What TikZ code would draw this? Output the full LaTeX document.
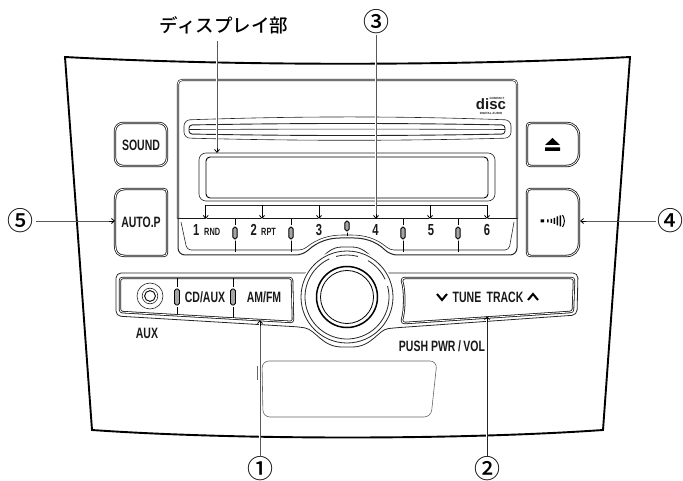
\documentclass[tikz,border=0pt]{standalone}
\usepackage{fontspec}
\setmainfont{Liberation Sans}
\newfontfamily\cjk{Noto Sans CJK JP Medium}
\newfontfamily\cond[FakeStretch=0.7]{Liberation Sans Bold}
\newfontfamily\logofont{Liberation Sans Bold}
\usetikzlibrary{arrows.meta}
\tikzset{
 x=1pt,y=-1pt,
 panel/.style={draw=black,line width=1.9pt,line join=miter},
 thin line/.style={draw=black!85,line width=.6pt},
 dbl/.style={draw=black!85,line width=.65pt,double=white,double distance=.9pt,line join=round},
 btn/.style={draw=black!90,line width=.8pt,double=white,double distance=.8pt,line join=round},
 recess/.style={draw=black!60,line width=.6pt},
 pill/.style={draw=black,line width=.9pt,fill=black!35,rounded corners=1.8pt,inner sep=0pt,minimum width=4.2pt},
 lbl/.style={font=\cond,inner sep=0pt,text=black!90},
 circ/.style={font=\cjk\fontsize{26}{26}\selectfont,inner sep=0pt},
 halo/.style={draw=white,line width=2.6pt},
 leader/.style={draw=black!65,line width=.9pt},
 tip/.style={draw=black,line width=.7pt,-{Straight Barb[length=3pt,width=5pt,line width=.8pt]}},
}
\begin{document}
\begin{tikzpicture}
\useasboundingbox (0,0) rectangle (683,481);
% outer panel
\draw[panel] (65,57) .. controls (230,66) and (460,66) .. (630,57) -- (603,430)
  .. controls (460,440) and (235,440) .. (92,430) -- cycle;
% CD bezel
\draw[dbl,rounded corners=4pt] (178,219) -- (178,80) -- (517,80) -- (517,219);
\draw[line width=1pt,draw=black!90] (178,218.5) -- (517,218.5);
\draw[thin line,line width=1pt,rounded corners=7pt] (178,218) -- (178,255) -- (303,255)
  .. controls (318,241) and (330,238) .. (347,238) .. controls (364,238) and (376,241) .. (390,255)
  -- (517,255) -- (517,218);
\draw[thin line,rounded corners=4pt] (181,222) -- (187,250) -- (303,250)
  .. controls (318,238) and (330,235) .. (347,235) .. controls (364,235) and (376,238) .. (390,250)
  -- (509,250) -- (514,222);
% CD slot
\draw[thin line,rounded corners=6pt] (184,120) .. controls (300,116) and (400,116) .. (511,120) -- (511,138) .. controls (400,141) and (300,141) .. (184,138) -- cycle;
\draw[thin line,line width=.9pt,rounded corners=3pt] (189,125) .. controls (300,123) and (400,123) .. (505,125) -- (505,134) .. controls (400,136) and (300,136) .. (189,134) -- cycle;
\draw[thin line] (189,129.5) .. controls (300,129) and (400,129) .. (505,129.5);
% display
\draw[thin line,rounded corners=7pt] (199,153) rectangle (495,201);
\draw[draw=black,line width=.9pt,rounded corners=4pt] (206,157) rectangle (488,198);
% side buttons
\draw[btn,rounded corners=8pt] (115,123) -- (167,123) -- (167,166) -- (115,166) -- cycle;
\draw[btn] (125,189) -- (163,189) .. controls (166,189) and (167,190) .. (167,193) -- (167,252) .. controls (167,255) and (166,256) .. (163,256) -- (125,256) .. controls (118,256) and (115,252) .. (115,245) -- (115,200) .. controls (115,193) and (118,189) .. (125,189) -- cycle;
\draw[btn] (531,123) -- (566,123) .. controls (574,123) and (579,128) .. (579,136) -- (579,153) .. controls (579,161) and (574,166) .. (566,166) -- (531,166) .. controls (528,166) and (527,165) .. (527,162) -- (527,127) .. controls (527,124) and (528,123) .. (531,123) -- cycle;
\draw[btn] (531,189) -- (566,189) .. controls (574,189) and (579,194) .. (579,202) -- (579,243) .. controls (579,251) and (574,256) .. (566,256) -- (531,256) .. controls (528,256) and (527,255) .. (527,252) -- (527,193) .. controls (527,190) and (528,189) .. (531,189) -- cycle;
\node[lbl,font=\cond\fontsize{15}{15}\selectfont] (sound) at (141,145) {SOUND};
\node[lbl,font=\cond\fontsize{15}{15}\selectfont] (autop) at (141,222) {AUTO.P};
% eject icon
\fill[black] (545,145) -- (552.5,138) -- (560,145) -- cycle (545,147.5) rectangle (560,151);
% seek icon
\fill[black] (540.5,219.5) rectangle (544,222.5) (547,219.5) rectangle (548.5,222.5)
  (550.5,219) rectangle (552,223) (553.5,218) rectangle (555,224) (556.5,216.5) rectangle (558,225.5)
  (559.5,215.5) rectangle (561,226.5);
\draw[black,line width=1pt] (562.5,215) .. controls (565,219) and (565,223) .. (562.5,227);
% preset dividers
\foreach \x/\yy in {235/252,291/252,403/252,458/252}{\draw[line width=1pt,black] (\x,219) -- (\x,\yy);
  \node[pill,draw=white,line width=2.5pt,minimum height=13pt] at (\x,233) {};
  \node[pill,minimum height=12pt] at (\x,233) {};}
\draw[line width=1pt,black] (347,219) -- (347,236);
\node[pill,draw=white,line width=2.5pt,minimum height=11pt] at (347,226) {};
\node[pill,minimum height=10pt] at (347,226) {};
% preset labels
\node[lbl,font=\cond\fontsize{16}{16}\selectfont,anchor=base east] (p1) at (199.5,236) {1};
\node[lbl,font=\cond\fontsize{10.5}{10.5}\selectfont,anchor=base west] (p1b) at (204,236) {RND};
\node[lbl,font=\cond\fontsize{16}{16}\selectfont,anchor=base east] (p2) at (257,236) {2};
\node[lbl,font=\cond\fontsize{10.5}{10.5}\selectfont,anchor=base west] (p2b) at (261,236) {RPT};
\foreach \x/\t in {319/3,375.5/4,431/5,487/6}{\node[lbl,font=\cond\fontsize{16}{16}\selectfont,anchor=base] at (\x,236) {\t};}
% lower band with knob surround
\draw[thin line,line width=.8pt,rounded corners=5pt] (116,316) -- (116,273) -- (300,273)
  .. controls (316,273) and (322,247) .. (347,247) .. controls (372,247) and (378,273) .. (393,273)
  -- (578,273) -- (577,315) -- (393,328)
  .. controls (378,330) and (372,347) .. (347,347) .. controls (322,347) and (316,330) .. (300,327)
  -- cycle;
% knob
\fill[white] (347,297) circle (48);
\draw[thin line,line width=.8pt] (347,297) circle (46);
\draw[thin line,line width=.8pt] (347,297) ++(-60:42) arc (-60:-25:42) ++(0,0);
\draw[thin line,line width=.8pt] (347,297) ++(-15:42) arc (-15:245:42);
\draw[thin line,line width=.8pt] (347,297) ++(255:42) arc (255:285:42);
\draw[black,line width=1.5pt] (347,297) circle (30.5);
\draw[black,line width=.8pt] (347,297) circle (26.5);
% lower buttons
\draw[btn,rounded corners=2.5pt] (120,278) -- (292,278) -- (293,322) -- (120,312) -- cycle;
\draw[btn] (405,278) -- (571,278) .. controls (573,278) and (574,279) .. (574,281) -- (573,309) .. controls (573,311) and (572,312) .. (570,312) -- (405,323) .. controls (403,323) and (402,322) .. (402,320) .. controls (405,310) and (405,290) .. (402,281) .. controls (402,279) and (403,278) .. (405,278) -- cycle;
\draw[line width=1pt,black] (177,278) -- (177,314) (233,278) -- (233,318);
\foreach \x in {177,233}{\node[pill,draw=white,line width=2.5pt,minimum height=17pt,minimum width=5pt] at (\x,297) {};
  \node[pill,minimum height=16pt,minimum width=5pt] at (\x,297) {};}
% jack
\draw[thin line] (150,296) circle (13) (150,296) circle (7.8);
\draw[black,line width=.9pt] (150,296) circle (5.4);
\node[lbl,font=\cond\fontsize{15}{15}\selectfont] (cdaux) at (205,297) {CD/AUX};
\node[lbl,font=\cond\fontsize{15}{15}\selectfont] (amfm) at (264,297) {AM/FM};
\node[lbl,font=\cond\fontsize{15}{15}\selectfont] (tune) at (467,297) {TUNE};
\node[lbl,font=\cond\fontsize{15}{15}\selectfont] (track) at (505,297) {TRACK};
\draw[black,line width=2pt,line join=miter] (437,294) -- (442,300) -- (447,294);
\draw[black,line width=2pt,line join=miter] (528,300) -- (533,294) -- (538,300);
\node[lbl,font=\cond\fontsize{15}{15}\selectfont] (aux) at (147,333) {AUX};
\node[lbl,font=\cond\fontsize{15}{15}\selectfont] (push) at (442,346) {PUSH PWR\,/\,VOL};
% recess
\draw[recess,rounded corners=7pt] (262,361) -- (437,361) -- (431,417) -- (263,417) -- cycle;
\draw[recess] (257.5,366) -- (257.5,380);
% CD logo
\node[lbl,font=\logofont\fontsize{15}{15}\selectfont,anchor=base] (disc) at (491,110) {disc};
\node[lbl,font=\logofont\fontsize{3}{3}\selectfont,anchor=base] (cdt) at (497,99.5) {COMPACT};
\node[lbl,font=\logofont\fontsize{3}{3}\selectfont,anchor=base] (cdb) at (491,115) {DIGITAL AUDIO};
% labels
\node[font=\cjk\fontsize{18.5}{18.5}\selectfont,inner sep=0pt] (disp) at (224,25) {ディスプレイ部};
\node[circ] (c1) at (260,469) {①};
\node[circ] (c2) at (487,469) {②};
\node[circ] (c3) at (376,22) {③};
\node[circ] (c4) at (670,221) {④};
\node[circ] (c5) at (21,221) {⑤};
\coordinate (t1) at (260,320);
\coordinate (t2) at (487,316);
\coordinate (t3) at (376,219);
\coordinate (t4) at (580,221);
\coordinate (t5) at (115,221);
\coordinate (td) at (217,153);
% bracket
\draw[thin line,line width=.8pt] (205.7,205) -- (487,205);
\foreach \x in {205.7,262,319,430,487}{\coordinate (b) at (\x,205); \coordinate (e) at (\x,219);
  \draw[draw=white,line width=2.2pt] (\x,214) -- (e);
  \draw[tip] (b) -- (e);}
% leaders
\draw[halo] (260,456) -- (260,324);
\draw[halo] (487,456) -- (487,320);
\draw[halo] (376,41) -- (376,215);
\draw[halo] (217,41) -- (217,149);
\draw[leader] (c1.north) -- (260,326);
\draw[tip] (260,326) -- (t1);
\draw[leader,draw=black!85] (c2.north) -- (487,322);
\draw[tip] (487,322) -- (t2);
\draw[leader] (c3.south) ++(0,1) -- (376,214);
\draw[tip] (376,214) -- (t3);
\draw[leader] (217,41) -- (217,148);
\draw[tip] (217,148) -- (td);
\draw[leader] (c4.west) ++(-1,0) -- (586,221);
\draw[tip] (586,221) -- (t4);
\draw[leader] (c5.east) ++(2,0) -- (109,221);
\draw[tip] (109,221) -- (t5);
\end{tikzpicture}
\end{document}
